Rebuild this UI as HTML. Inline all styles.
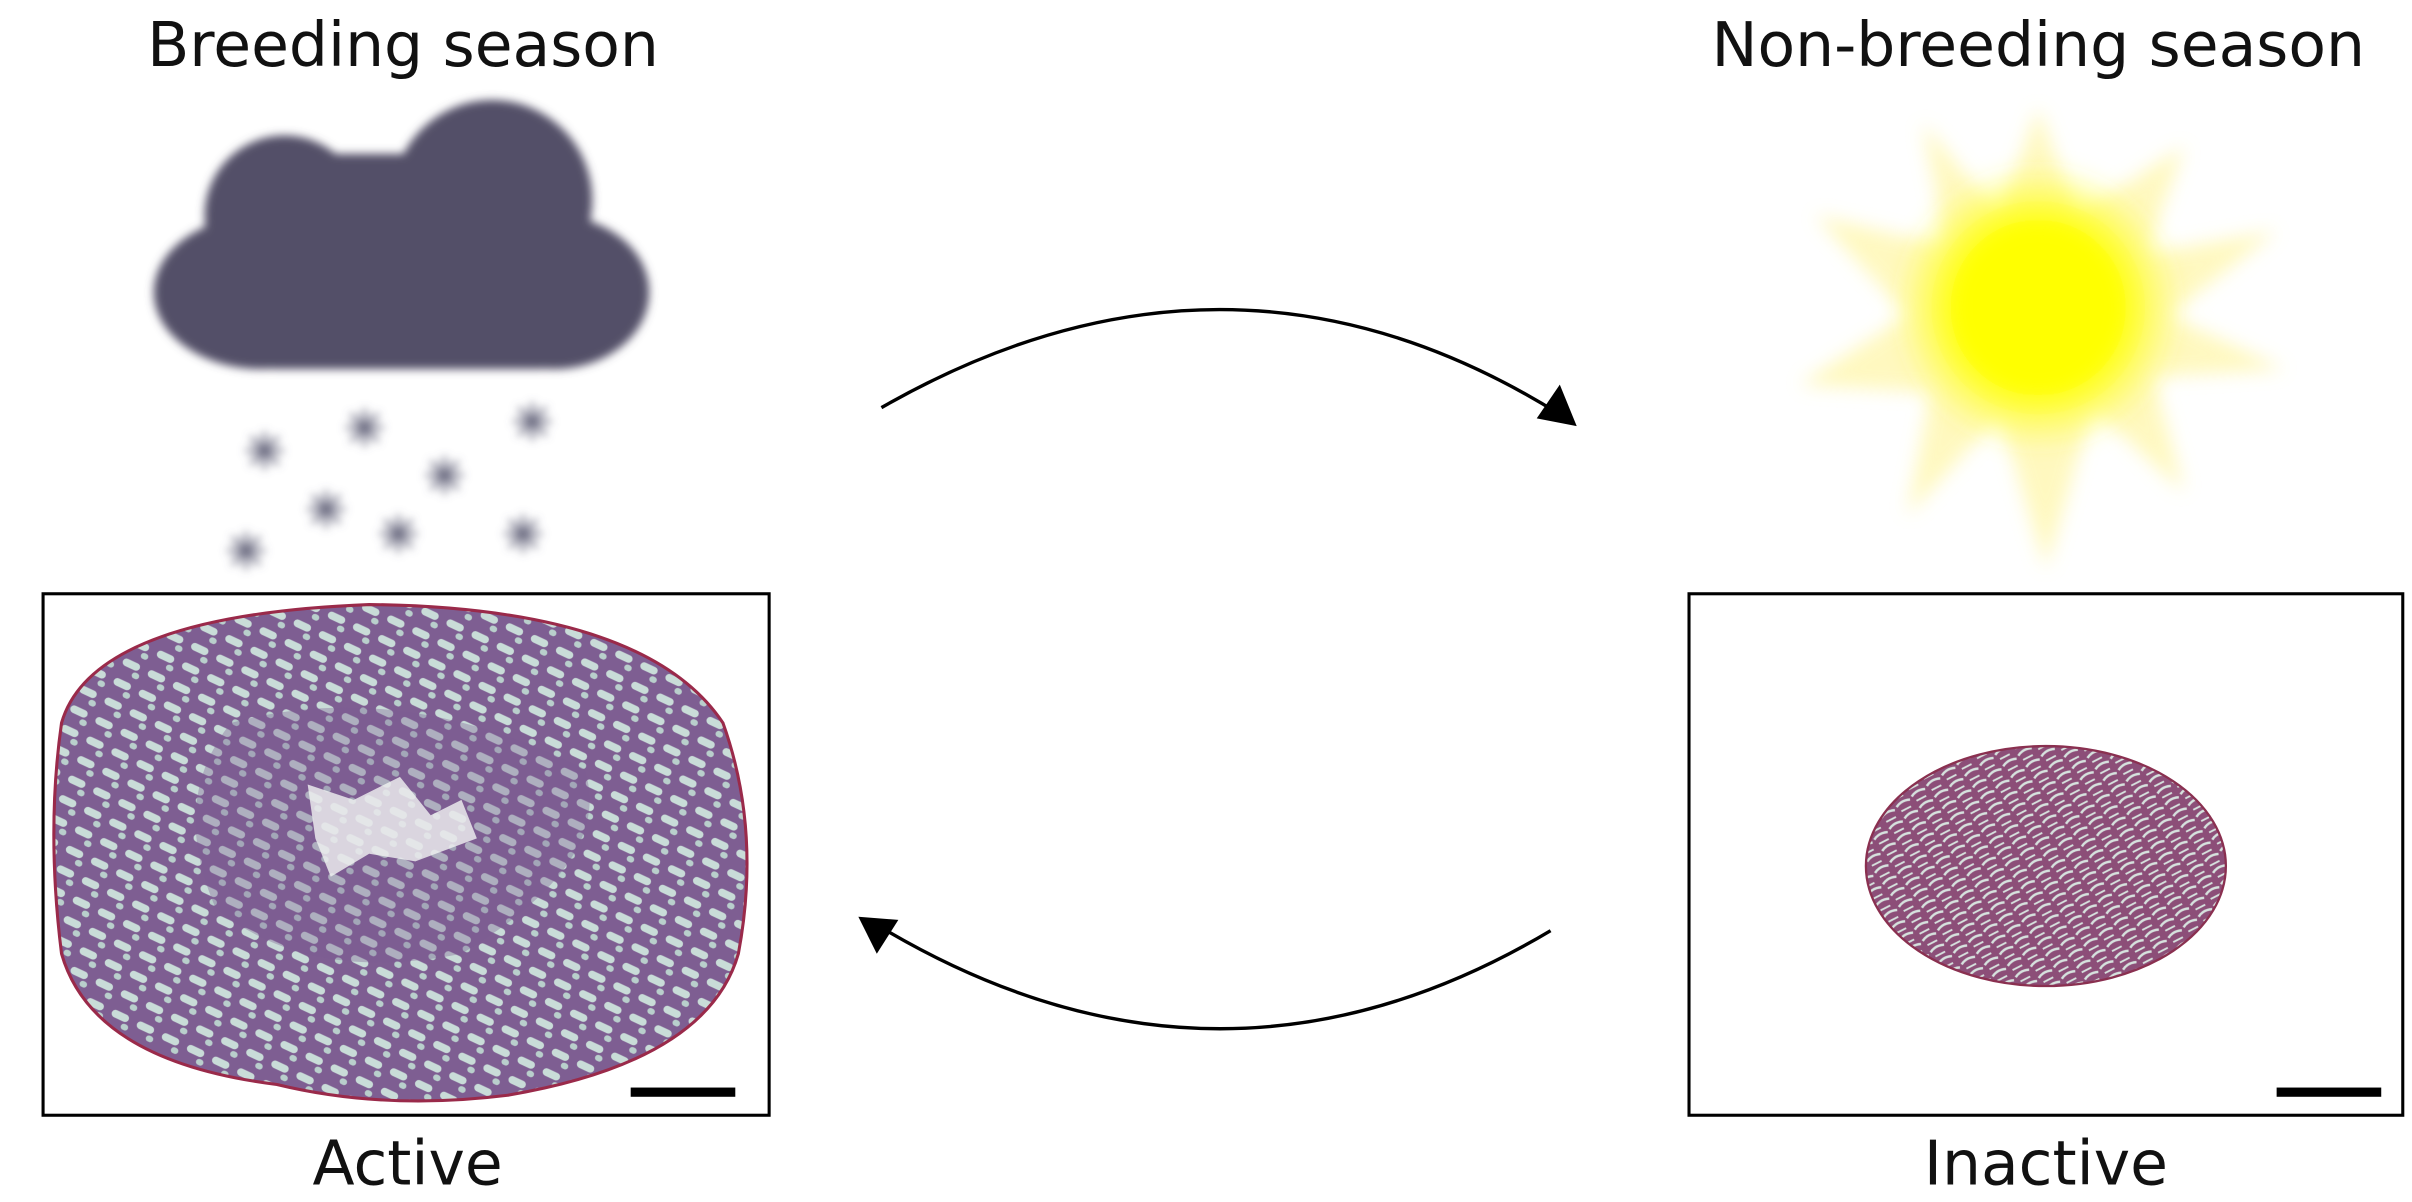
<!DOCTYPE html>
<html><head><meta charset="utf-8"><style>
html,body{margin:0;padding:0;background:#fff;}
svg{display:block;}
text{font-family:"DejaVu Sans","Liberation Sans",sans-serif;fill:#111;}
</style></head><body>
<svg width="2412" height="1202" viewBox="0 0 1568 781.4" preserveAspectRatio="none" xmlns="http://www.w3.org/2000/svg">
<defs>
<filter id="blur" x="-20%" y="-20%" width="140%" height="140%"><feGaussianBlur stdDeviation="3"/></filter>
<filter id="blur3" x="-20%" y="-20%" width="140%" height="140%"><feGaussianBlur stdDeviation="6"/></filter>
<radialGradient id="sung"><stop offset="0.55" stop-color="#ffff00"/><stop offset="1" stop-color="#ffff40" stop-opacity="0"/></radialGradient>
<pattern id="tub" width="18" height="14" patternUnits="userSpaceOnUse" patternTransform="rotate(25)">
<rect width="18" height="14" fill="#7e5e92"/>
<rect x="2" y="3" width="12" height="5" rx="2.5" fill="#c9dcd8"/>
<rect x="11" y="9" width="5" height="4" rx="2" fill="#b9cfcc"/>
</pattern>
<pattern id="tub2" width="12" height="9" patternUnits="userSpaceOnUse" patternTransform="rotate(-35)">
<rect width="12" height="9" fill="#8c4e78"/>
<path d="M1 3 Q6 1 11 4" stroke="#d6e2de" stroke-width="1.6" fill="none"/>
<path d="M2 7 L9 8" stroke="#d6e2de" stroke-width="1.2" fill="none"/>
</pattern>
<g id="sf"><path d="M-11 0 H11 M0 -11 V11 M-8 -8 L8 8 M-8 8 L8 -8"/></g>
</defs>

<text x="262" y="43" font-size="40" text-anchor="middle">Breeding season</text>
<text x="1325" y="43" font-size="40" text-anchor="middle">Non-breeding season</text>

<g filter="url(#blur)" fill="#535068">
<circle cx="185" cy="140" r="52"/>
<circle cx="320" cy="130" r="65"/>
<rect x="170" y="100" width="120" height="80" rx="30"/>
<ellipse cx="170" cy="190" rx="70" ry="50"/>
<ellipse cx="360" cy="190" rx="62" ry="50"/>
<rect x="150" y="140" width="230" height="100" rx="30"/>
</g>

<g stroke="#6a6a80" stroke-width="2.5" stroke-linecap="round" filter="url(#blur)">
<use href="#sf" x="172" y="293"/><use href="#sf" x="237" y="278"/><use href="#sf" x="346" y="274"/>
<use href="#sf" x="289" y="309"/><use href="#sf" x="212" y="331"/><use href="#sf" x="259" y="347"/>
<use href="#sf" x="340" y="347"/><use href="#sf" x="160" y="358"/>
</g>

<g>
<polygon filter="url(#blur3)" fill="#fff7b0" opacity="0.8" points="1325,70 1350,140 1420,95 1395,165 1480,150 1410,205 1485,240 1400,245 1420,320 1360,265 1330,370 1300,270 1240,335 1255,255 1170,250 1240,205 1180,140 1265,160 1250,80 1300,140"/>
<circle cx="1325" cy="200" r="95" fill="url(#sung)" filter="url(#blur3)"/>
</g>

<path d="M573 265 Q800 135 1015 270" stroke="#000" stroke-width="2.2" fill="none"/>
<polygon points="1025,277 999,272 1014,250" fill="#000"/>
<path d="M1008 605 Q790 735 568 600" stroke="#000" stroke-width="2.2" fill="none"/>
<polygon points="558,596 584,598 570,620" fill="#000"/>

<g>
<rect x="28" y="386" width="472" height="339" fill="#fff" stroke="#000" stroke-width="2"/>
<path d="M40 470 Q60 400 240 393 Q420 395 470 470 Q495 540 480 620 Q460 690 330 712 Q250 722 180 705 Q60 690 40 620 Q30 540 40 470 Z" fill="url(#tub)" stroke="#9a2a4a" stroke-width="2"/>
<path d="M150 470 Q260 440 380 500 Q400 560 300 620 Q200 640 140 590 Q110 520 150 470Z" fill="#7a5c92" opacity="0.35"/>
<path d="M200 510 L230 520 L260 505 L280 530 L300 520 L310 545 L270 560 L240 555 L215 570 L205 545 Z" fill="#f1f4f2" opacity="0.8"/>
<rect x="410" y="707" width="68" height="6" fill="#000"/>
</g>
<text x="265" y="770" font-size="40" text-anchor="middle">Active</text>

<g>
<rect x="1098" y="386" width="464" height="339" fill="#fff" stroke="#000" stroke-width="2"/>
<ellipse cx="1330" cy="563" rx="117" ry="78" fill="url(#tub2)" stroke="#8a3050" stroke-width="1.5"/>
<rect x="1480" y="707" width="68" height="6" fill="#000"/>
</g>
<text x="1330" y="770" font-size="40" text-anchor="middle">Inactive</text>
</svg>
</body></html>
